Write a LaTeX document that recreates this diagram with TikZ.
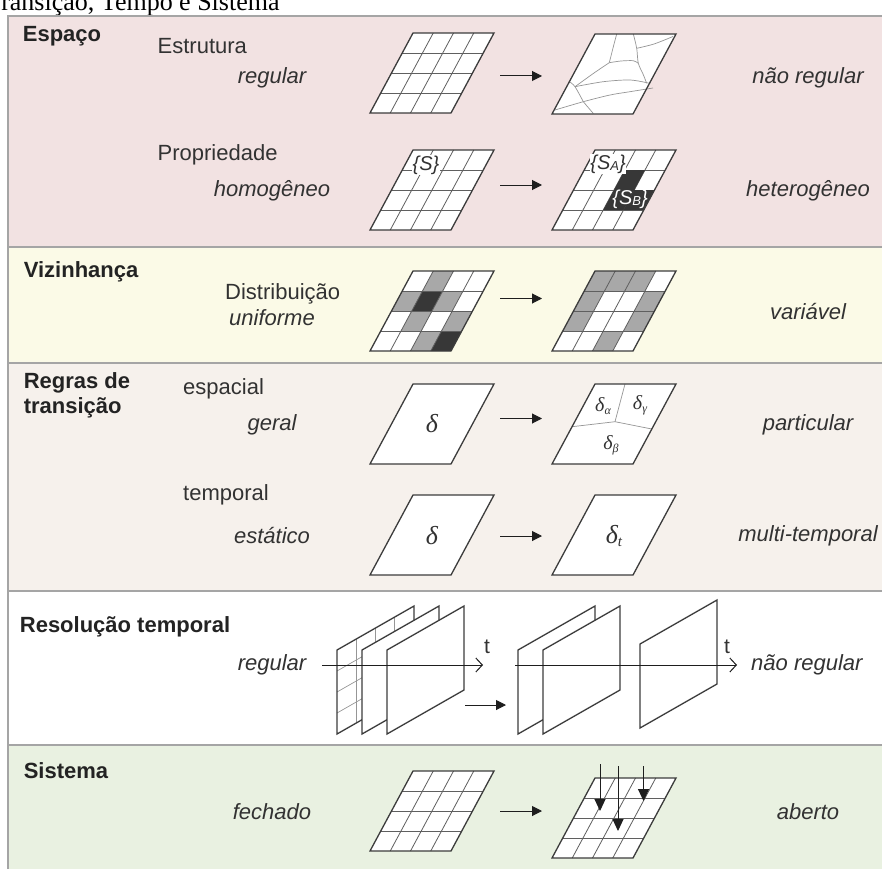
\documentclass[tikz,border=0pt]{standalone}
\usepackage{fontspec}
\setmainfont{Liberation Sans}
\newfontfamily\timesfont{Liberation Serif}
\usetikzlibrary{arrows.meta}

\definecolor{pinkbg}{RGB}{242,226,226}
\definecolor{yellowbg}{RGB}{251,250,231}
\definecolor{beigebg}{RGB}{246,241,236}
\definecolor{greenbg}{RGB}{233,241,225}
\definecolor{rulegray}{RGB}{165,165,165}
\definecolor{ink}{RGB}{50,50,50}
\definecolor{headink}{RGB}{35,35,35}
\definecolor{frameink}{RGB}{60,60,60}
\definecolor{cellink}{RGB}{95,95,95}
\definecolor{softink}{RGB}{150,150,150}
\definecolor{arrowink}{RGB}{30,30,30}
\definecolor{cellmid}{RGB}{168,168,168}
\definecolor{celldark}{RGB}{55,55,55}

% inner 4x4 lines of a unit cell field
\newcommand\cellgrid{%
  \foreach \k in {0.25,0.5,0.75} {%
    \draw[cellline] (\k,0) -- (\k,1);
    \draw[cellline] (0,\k) -- (1,\k);
  }}
\newcommand\unitfill{\fill[white] (0,0) -- (1,0) -- (1,1) -- (0,1) -- cycle;}
\newcommand\unitframe{\draw[frameline] (0,0) -- (1,0) -- (1,1) -- (0,1) -- cycle;}
% shade one cell: colour, column (0..3 from left), row (0..3 from bottom)
\newcommand\shadecell[3]{\fill[#1] (#2*0.25,#3*0.25) -- ++(0.25,0) -- ++(0,0.25) -- ++(-0.25,0) -- cycle;}

\begin{document}
\begin{tikzpicture}[x=1pt,y=-1pt,
  lab/.style={font=\fontsize{22}{26}\selectfont, text=ink, inner sep=0pt},
  itlab/.style={font=\fontsize{22}{26}\selectfont\itshape, text=ink, inner sep=0pt},
  head/.style={font=\fontsize{22}{26}\selectfont\bfseries, text=headink, inner sep=0pt},
  frameline/.style={draw=frameink, line width=1.3pt, line join=miter},
  cellline/.style={draw=cellink, line width=0.8pt},
  softline/.style={draw=softink, line width=0.7pt},
  para/.style={x={(81pt,0pt)}, y={(43pt,80pt)}},
  sheet/.style={x={(77pt,44pt)}, y={(0pt,84pt)}},
  flow/.style={draw=arrowink, line width=1pt, -{Triangle[length=10pt,width=10pt]}},
  drop/.style={draw=arrowink, line width=1pt, -{Triangle[length=12pt,width=11pt]}},
  axis/.style={draw=arrowink, line width=1pt, -{Straight Barb[length=6.5pt,width=14pt]}},
  delta/.style={font=\timesfont\itshape\fontsize{26}{26}\selectfont, text=ink, inner sep=0pt},
  smalldelta/.style={font=\timesfont\itshape\fontsize{20}{20}\selectfont, text=ink, inner sep=0pt},
  setlab/.style={font=\fontsize{20}{22}\selectfont\itshape, text=ink, inner sep=0.3pt},
  tlab/.style={font=\fontsize{21}{22}\selectfont, text=ink, inner sep=0pt},
]
\useasboundingbox (0,0) rectangle (882,869);
\fill[white] (0,0) rectangle (882,869);

% heading line above the frame
\node[font=\timesfont\fontsize{26}{28}\selectfont, text=black, inner sep=0pt, anchor=base west] (title) at (-13.9,11) {Transição, Tempo e Sistema};

% coloured bands
\fill[pinkbg] (8,16) rectangle (882,247);
\fill[yellowbg] (8,247) rectangle (882,363);
\fill[beigebg] (8,363) rectangle (882,591);
\fill[white] (8,591) rectangle (882,745);
\fill[greenbg] (8,745) rectangle (882,869);
\draw[rulegray, line width=1.2pt] (8,869) -- (8,16) -- (882,16);
\foreach \yy in {247,363,591,745} \draw[rulegray, line width=1.5pt] (8,\yy) -- (882,\yy);

% section headings
\node[head, anchor=base west] (hEsp) at (22.7,41.7) {Espaço};
\node[head, anchor=base west] (hViz) at (23.6,277) {Vizinhança};
\node[head, anchor=base west] (hReg1) at (23.6,388) {Regras de};
\node[head, anchor=base west] (hReg2) at (23.6,413) {transição};
\node[head, anchor=base west] (hRes) at (19.7,632.7) {Resolução temporal};
\node[head, anchor=base west] (hSis) at (23.6,778) {Sistema};

% sub headings
\node[lab, anchor=base west] (sEst) at (157.5,53.7) {Estrutura};
\node[lab, anchor=base west] (sPro) at (157.5,160.7) {Propriedade};
\node[lab, anchor=base west] (sDis) at (225,299) {Distribuição};
\node[lab, anchor=base west] (sEspa) at (183,394.5) {espacial};
\node[lab, anchor=base west] (sTem) at (183,500) {temporal};

% left column states
\node[itlab, anchor=base] (lReg) at (272,84) {regular};
\node[itlab, anchor=base] (lHom) at (272,196.5) {homogêneo};
\node[itlab, anchor=base] (lUni) at (272,325) {uniforme};
\node[itlab, anchor=base] (lGer) at (272,430.5) {geral};
\node[itlab, anchor=base] (lEst) at (272,543) {estático};
\node[itlab, anchor=base] (lRes) at (272,670) {regular};
\node[itlab, anchor=base] (lFec) at (272,819) {fechado};

% right column states
\node[itlab, anchor=base] (rNao) at (808,84) {não regular};
\node[itlab, anchor=base] (rHet) at (808,196.5) {heterogêneo};
\node[itlab, anchor=base] (rVar) at (808,319.5) {variável};
\node[itlab, anchor=base] (rPar) at (808,430.5) {particular};
\node[itlab, anchor=base] (rMul) at (808,541) {multi-temporal};
\node[itlab, anchor=base west] (rRes) at (751,670) {não regular};
\node[itlab, anchor=base] (rAbe) at (808,819) {aberto};

% ---- Espaço: structure
\begin{scope}[shift={(370,113)}, para]
  \unitfill \cellgrid \unitframe
\end{scope}
\begin{scope}[shift={(552,114)}, para]
  \unitfill
\end{scope}
\draw[softline] plot[smooth] coordinates {(616.7,34) (613,48) (609.3,62.7)};
\draw[softline] plot[smooth] coordinates {(609.3,62.7) (621,61) (633.3,60.7) (638.3,63.3)};
\draw[softline] plot[smooth] coordinates {(633.3,34) (636.7,48.3) (638.3,63.3) (643,74) (646.7,83.3)};
\draw[softline] plot[smooth] coordinates {(636.7,48.3) (654,44) (673,36.5)};
\draw[softline] plot[smooth] coordinates {(609.3,62.7) (594,73) (575,86.7)};
\draw[softline] plot[smooth] coordinates {(569.4,81.7) (575,86.7) (583.3,101.7)};
\draw[softline] plot[smooth] coordinates {(575,86.7) (603.3,81.7) (630,80) (649.5,83.3)};
\draw[softline] plot[smooth] coordinates {(555,110) (583.3,101.7) (610,95) (630,91.7) (653,88)};
\draw[softline] plot[smooth] coordinates {(583.3,101.7) (593.3,113.5)};
\begin{scope}[shift={(552,114)}, para]
  \unitframe
\end{scope}
\coordinate (a1s) at (500,76); \coordinate (a1e) at (542,76);
\draw[flow] (a1s) -- (a1e);

% ---- Espaço: property
\begin{scope}[shift={(370,230)}, para]
  \unitfill \cellgrid \unitframe
\end{scope}
\node[setlab, fill=white] (setS) at (426,165) {\{S\}};
\begin{scope}[shift={(552,230)}, para]
  \unitfill
  \cellgrid
  \shadecell{celldark}{2}{2}
  \shadecell{celldark}{2}{1}
  \shadecell{celldark}{3}{1}
  \unitframe
\end{scope}
\node[setlab, fill=white] (setSA) at (608,164) {\{S\raisebox{-0.1ex}{\fontsize{13}{13}\selectfont A}\}};
\node[setlab, text=white] (setSB) at (630,199.5) {\{S\raisebox{-0.1ex}{\fontsize{13}{13}\selectfont B}\}};
\coordinate (a2s) at (500,185); \coordinate (a2e) at (542,185);
\draw[flow] (a2s) -- (a2e);

% ---- Vizinhança
\begin{scope}[shift={(370,351)}, para]
  \unitfill
  \shadecell{cellmid}{1}{3}
  \shadecell{cellmid}{0}{2} \shadecell{celldark}{1}{2} \shadecell{cellmid}{2}{2}
  \shadecell{cellmid}{1}{1} \shadecell{cellmid}{3}{1}
  \shadecell{cellmid}{2}{0} \shadecell{celldark}{3}{0}
  \cellgrid \unitframe
\end{scope}
\begin{scope}[shift={(552,351)}, para]
  \unitfill
  \shadecell{cellmid}{0}{3} \shadecell{cellmid}{1}{3} \shadecell{cellmid}{2}{3}
  \shadecell{cellmid}{0}{2} \shadecell{cellmid}{3}{2}
  \shadecell{cellmid}{0}{1} \shadecell{cellmid}{3}{1}
  \shadecell{cellmid}{2}{0}
  \cellgrid \unitframe
\end{scope}
\coordinate (a3s) at (500,298.5); \coordinate (a3e) at (542,298.5);
\draw[flow] (a3s) -- (a3e);

% ---- Regras de transição: spatial
\begin{scope}[shift={(370,464)}, para]
  \unitfill \unitframe
\end{scope}
\node[delta] (d1) at (432,424) {δ};
\begin{scope}[shift={(552,464)}, para]
  \unitfill
\end{scope}
\draw[softline] (625,384) -- (615,421.7);
\draw[softline] (572,426.7) -- (615,421.7) -- (651.8,429);
\begin{scope}[shift={(552,464)}, para]
  \unitframe
\end{scope}
\node[smalldelta] (dA) at (603,406) {δ\raisebox{-0.3ex}{\fontsize{12}{12}\selectfont α}};
\node[smalldelta] (dG) at (640,405) {δ\raisebox{-0.3ex}{\fontsize{12}{12}\selectfont γ}};
\node[smalldelta] (dB) at (611,445) {δ\raisebox{-0.3ex}{\fontsize{12}{12}\selectfont β}};
\coordinate (a4s) at (500,418.5); \coordinate (a4e) at (542,418.5);
\draw[flow] (a4s) -- (a4e);

% ---- Regras de transição: temporal
\begin{scope}[shift={(370,575)}, para]
  \unitfill \unitframe
\end{scope}
\node[delta] (d2) at (432,536) {δ};
\begin{scope}[shift={(552,575)}, para]
  \unitfill \unitframe
\end{scope}
\node[delta] (d3) at (614,536) {δ\raisebox{-0.3ex}{\fontsize{15}{15}\selectfont t}};
\coordinate (a5s) at (500,536); \coordinate (a5e) at (542,536);
\draw[flow] (a5s) -- (a5e);

% ---- Resolução temporal: regular sequence
\begin{scope}[shift={(337,734)}, sheet]
  \unitfill
  \foreach \k in {0.25,0.5,0.75} {%
    \draw[softline] (\k,0) -- (\k,1);
    \draw[softline] (0,\k) -- (1,\k);
  }
  \unitframe
\end{scope}
\begin{scope}[shift={(362,734)}, sheet]
  \unitfill \unitframe
\end{scope}
\begin{scope}[shift={(387,734)}, sheet]
  \unitfill \unitframe
\end{scope}
\coordinate (t1s) at (322,665); \coordinate (t1e) at (483,665);
\draw[axis] (t1s) -- (t1e);
\node[tlab, anchor=base] (t1) at (487,653) {t};

% ---- Resolução temporal: irregular sequence
\begin{scope}[shift={(518,734)}, sheet]
  \unitfill \unitframe
\end{scope}
\begin{scope}[shift={(543,734)}, sheet]
  \unitfill \unitframe
\end{scope}
\begin{scope}[shift={(640,728)}, sheet]
  \unitfill \unitframe
\end{scope}
\coordinate (t2s) at (515,665); \coordinate (t2e) at (737,665);
\draw[axis] (t2s) -- (t2e);
\node[tlab, anchor=base] (t2) at (727,653) {t};
\coordinate (a6s) at (465,705); \coordinate (a6e) at (506,705);
\draw[flow] (a6s) -- (a6e);

% ---- Sistema
\begin{scope}[shift={(370,851)}, para]
  \unitfill \cellgrid \unitframe
\end{scope}
\begin{scope}[shift={(552,858)}, para]
  \unitfill \cellgrid \unitframe
\end{scope}
\coordinate (a7s) at (500,811); \coordinate (a7e) at (542,811);
\draw[flow] (a7s) -- (a7e);
\coordinate (in1s) at (600,764); \coordinate (in1e) at (600,811);
\coordinate (in2s) at (618,766); \coordinate (in2e) at (618,831);
\coordinate (in3s) at (643.5,766); \coordinate (in3e) at (643.5,801);
\draw[drop] (in1s) -- (in1e);
\draw[drop] (in2s) -- (in2e);
\draw[drop] (in3s) -- (in3e);
\end{tikzpicture}
\end{document}
